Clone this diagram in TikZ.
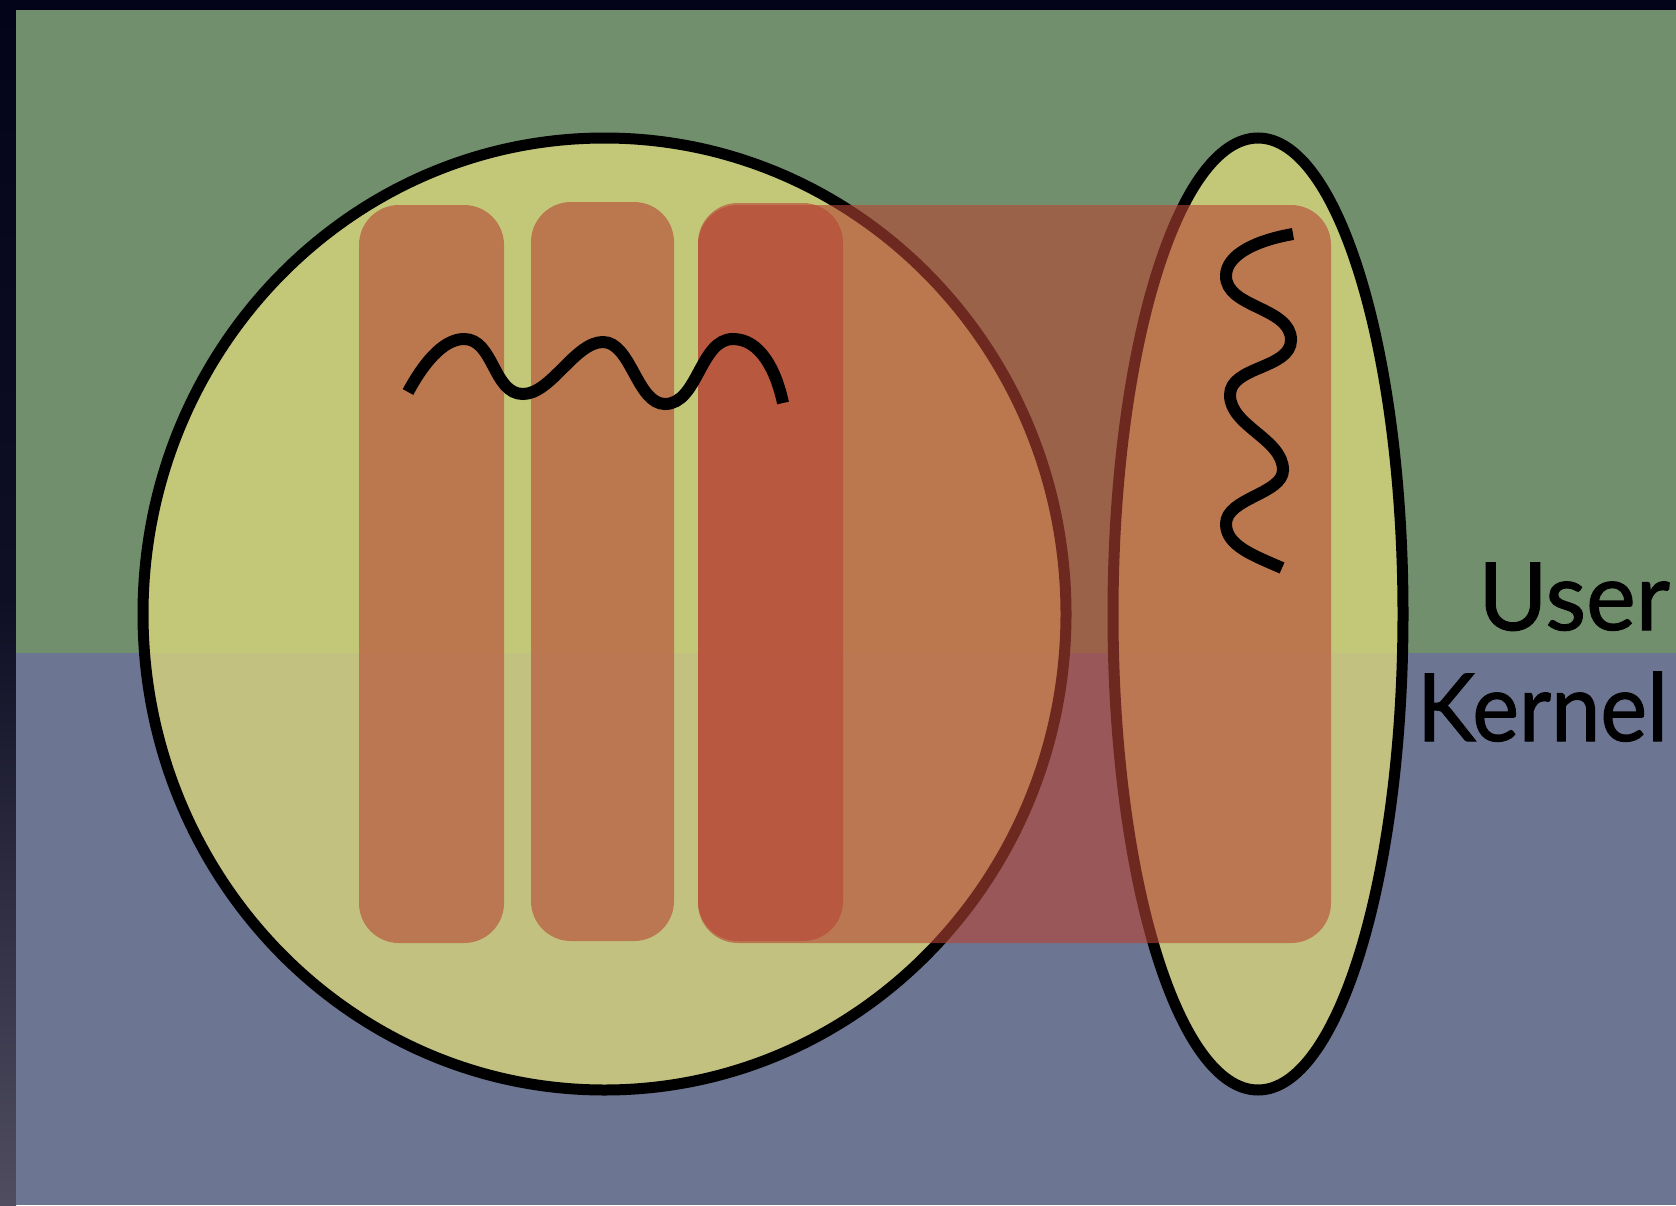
\documentclass[tikz,border=0pt]{standalone}
\usepackage{fontspec}
\setmainfont{Lato}
\newfontfamily\layerfont[FakeBold=1.2]{Lato}
\definecolor{bggreen}{RGB}{113,143,109}
\definecolor{bgblue}{RGB}{108,117,145}
\definecolor{framedark}{RGB}{3,4,26}
\definecolor{framelow}{RGB}{80,77,96}
\definecolor{procyellow}{RGB}{216,213,123}
\definecolor{threadorange}{RGB}{183,68,52}
\tikzset{
  procshape/.style={fill=procyellow, fill opacity=0.8, draw=black, draw opacity=1, line width=11pt},
  threadbox/.style={fill=threadorange, fill opacity=0.6, rounded corners=40pt},
  wave/.style={draw=black, line width=12pt, line cap=butt},
  layertext/.style={inner sep=0pt, font=\layerfont\fontsize{94}{100}\selectfont, text=black},
}
\begin{document}
\begin{tikzpicture}[x=1pt,y=-1pt]
\useasboundingbox (0,0) rectangle (1676,1205);
% frame and layers
\fill[framedark] (0,0) rectangle (1676,10);
\shade[top color=framedark, bottom color=framelow, middle color=framedark!85!framelow] (0,0) rectangle (16,1205);
\fill[bggreen] (16,10) rectangle (1676,653);
\fill[bgblue] (16,653) rectangle (1676,1205);
% processes
\draw[procshape] (604.5,614) ellipse [x radius=461.5pt, y radius=476pt];
\draw[procshape] (1258,614) ellipse [x radius=145pt, y radius=476pt];
% threads
\fill[threadbox] (359,205) rectangle (504,943);
\fill[threadbox] (531,202) rectangle (674,941);
\fill[threadbox] (698,203) rectangle (843,941);
\fill[threadbox] (698,205) rectangle (1331,943);
% waves
\coordinate (wa) at (408,392);
\coordinate (wp1) at (464,339);
\coordinate (wt1) at (523,394);
\coordinate (wp2) at (603,342);
\coordinate (wt2) at (665,404);
\coordinate (wp3) at (733,339);
\coordinate (we) at (783,403);
\draw[wave] (wa) .. controls (422,366) and (442,339) .. (wp1)
  .. controls (494,339) and (493,394) .. (wt1)
  .. controls (551,394) and (575,342) .. (wp2)
  .. controls (631,342) and (637,404) .. (wt2)
  .. controls (698,404) and (700,339) .. (wp3)
  .. controls (760,339) and (776,370) .. (we);
\coordinate (va) at (1293,234);
\coordinate (vl1) at (1226,276);
\coordinate (vr1) at (1291,340);
\coordinate (vl2) at (1230,395);
\coordinate (vr2) at (1283,470);
\coordinate (vl3) at (1226,524);
\coordinate (ve) at (1282,568);
\draw[wave] (va) .. controls (1258,240) and (1226,254) .. (vl1)
  .. controls (1226,308) and (1291,307) .. (vr1)
  .. controls (1291,369) and (1230,366) .. (vl2)
  .. controls (1230,426) and (1283,439) .. (vr2)
  .. controls (1283,494) and (1226,498) .. (vl3)
  .. controls (1226,546) and (1255,556) .. (ve);
% labels
\node[layertext, anchor=base east] (user) at (1670,630) {User};
\node[layertext, anchor=base east, xscale=0.94] (kernel) at (1668,741) {Kernel};
\end{tikzpicture}
\end{document}
